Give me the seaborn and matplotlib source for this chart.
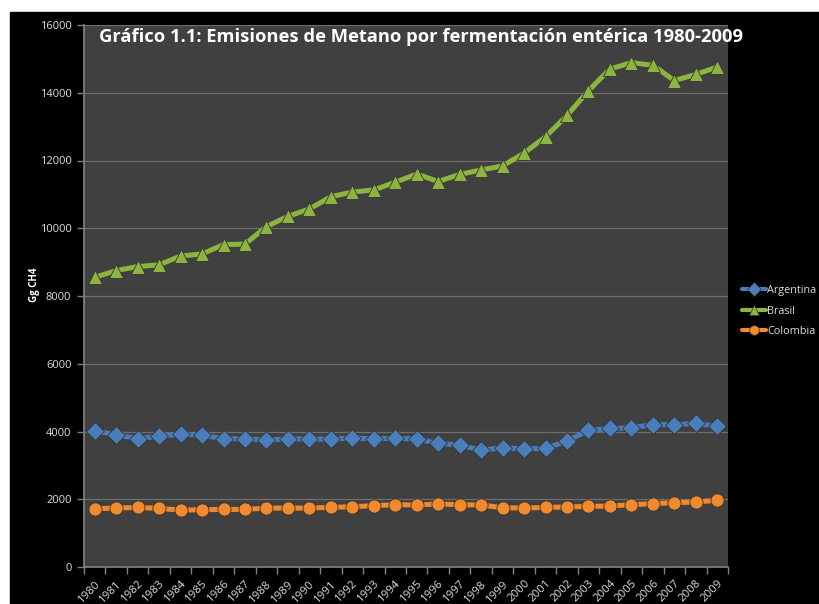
import numpy as np
import pandas as pd
import matplotlib
matplotlib.use("Agg")
import matplotlib.pyplot as plt
import seaborn as sns
from matplotlib.patches import Rectangle

# data (Gg CH4)
years = list(range(1980, 2010))
argentina = [4020, 3900, 3790, 3860, 3920, 3890, 3790, 3780, 3750, 3780,
             3780, 3770, 3810, 3780, 3800, 3780, 3650, 3600, 3450, 3520,
             3490, 3500, 3720, 4030, 4090, 4110, 4200, 4200, 4240, 4150]
brasil = [8550, 8750, 8870, 8920, 9180, 9240, 9520, 9530, 10050, 10350,
          10570, 10930, 11070, 11130, 11360, 11600, 11380, 11590, 11720, 11840,
          12220, 12700, 13330, 14060, 14700, 14890, 14810, 14360, 14540, 14760]
colombia = [1720, 1740, 1760, 1730, 1680, 1690, 1700, 1700, 1740, 1740,
            1740, 1760, 1780, 1810, 1840, 1830, 1860, 1840, 1830, 1750,
            1740, 1760, 1770, 1790, 1800, 1840, 1870, 1900, 1920, 1970]
countries = ["Argentina", "Brasil", "Colombia"]

df = pd.DataFrame({
    "year": years * 3,
    "value": argentina + brasil + colombia,
    "country": [c for c in countries for _ in years],
})
df["pos"] = df["year"] - 1980

sns.set_theme(style="dark")
plt.rcParams["font.family"] = ["Open Sans", "DejaVu Sans"]

fig = plt.figure(figsize=(8.2, 6.04), dpi=100, facecolor="white")
# black chart area, leaving a thin white strip at top and left
fig.patches.append(Rectangle((10 / 820, 0), 1, (604 - 12) / 604,
                             transform=fig.transFigure, color="black", zorder=-10))
ax = fig.add_axes([84 / 820, 37 / 604, 644 / 820, 542 / 604])
ax.set_facecolor("#404040")

palette = {"Argentina": "#4a7ebb", "Brasil": "#8db43e", "Colombia": "#f08a2c"}
markers = {"Argentina": "D", "Brasil": "^", "Colombia": "o"}
sns.lineplot(data=df, x="pos", y="value", hue="country", style="country",
             palette=palette, markers=markers, dashes=False, linewidth=3.6,
             markersize=9.5, markeredgewidth=0.6, markeredgecolor="#333333",
             ax=ax, legend=False, zorder=3)

ax.set_xlim(-0.5, 29.5)
ax.set_ylim(0, 16000)
ax.set_yticks(np.arange(0, 16001, 2000))
ax.set_xticks(range(len(years)))
ax.set_xticks(np.arange(-0.5, 30, 1), minor=True)
ax.set_xticklabels([str(y) for y in years], rotation=45, ha="right",
                   rotation_mode="anchor", color="#dddddd", fontsize=8.2)
ax.tick_params(axis="y", colors="#808080", labelcolor="#dddddd", labelsize=8,
               length=5, width=1, direction="out", left=True, pad=4)
ax.tick_params(axis="x", which="major", length=0, pad=8)
ax.tick_params(axis="x", which="minor", length=5, width=1, color="#808080",
               direction="out", bottom=True)
ax.grid(axis="y", color="#6e6e6e", linewidth=0.9)
ax.grid(axis="x", visible=False)
for s in ["top", "right"]:
    ax.spines[s].set_visible(False)
for s in ["left", "bottom"]:
    ax.spines[s].set_visible(True)
    ax.spines[s].set_color("#808080")
ax.set_xlabel("")
ax.set_ylabel("Gg CH4", color="white", fontsize=7, fontweight="bold")
ax.yaxis.set_label_coords((40 - 84) / 644, 0.52)

fig.text(421 / 820, (604 - 37) / 604,
         "Gráfico 1.1: Emisiones de Metano por fermentación entérica 1980-2009",
         color="white", fontsize=13.2, fontweight="bold", ha="center", va="center")

# legend
handles = [plt.Line2D([], [], color=palette[c], marker=markers[c], linewidth=3,
                      markersize=7, markeredgecolor="#333333", markeredgewidth=0.5)
           for c in countries]
leg = fig.legend(handles, countries, loc="center left",
                 bbox_to_anchor=(742 / 820, (604 - 311) / 604), frameon=False,
                 fontsize=7.8, handlelength=2.2, handletextpad=0.1,
                 labelspacing=0.9, borderaxespad=0, borderpad=0)
for t in leg.get_texts():
    t.set_color("#dddddd")

fig.savefig("out.png", dpi=100, facecolor="white")
